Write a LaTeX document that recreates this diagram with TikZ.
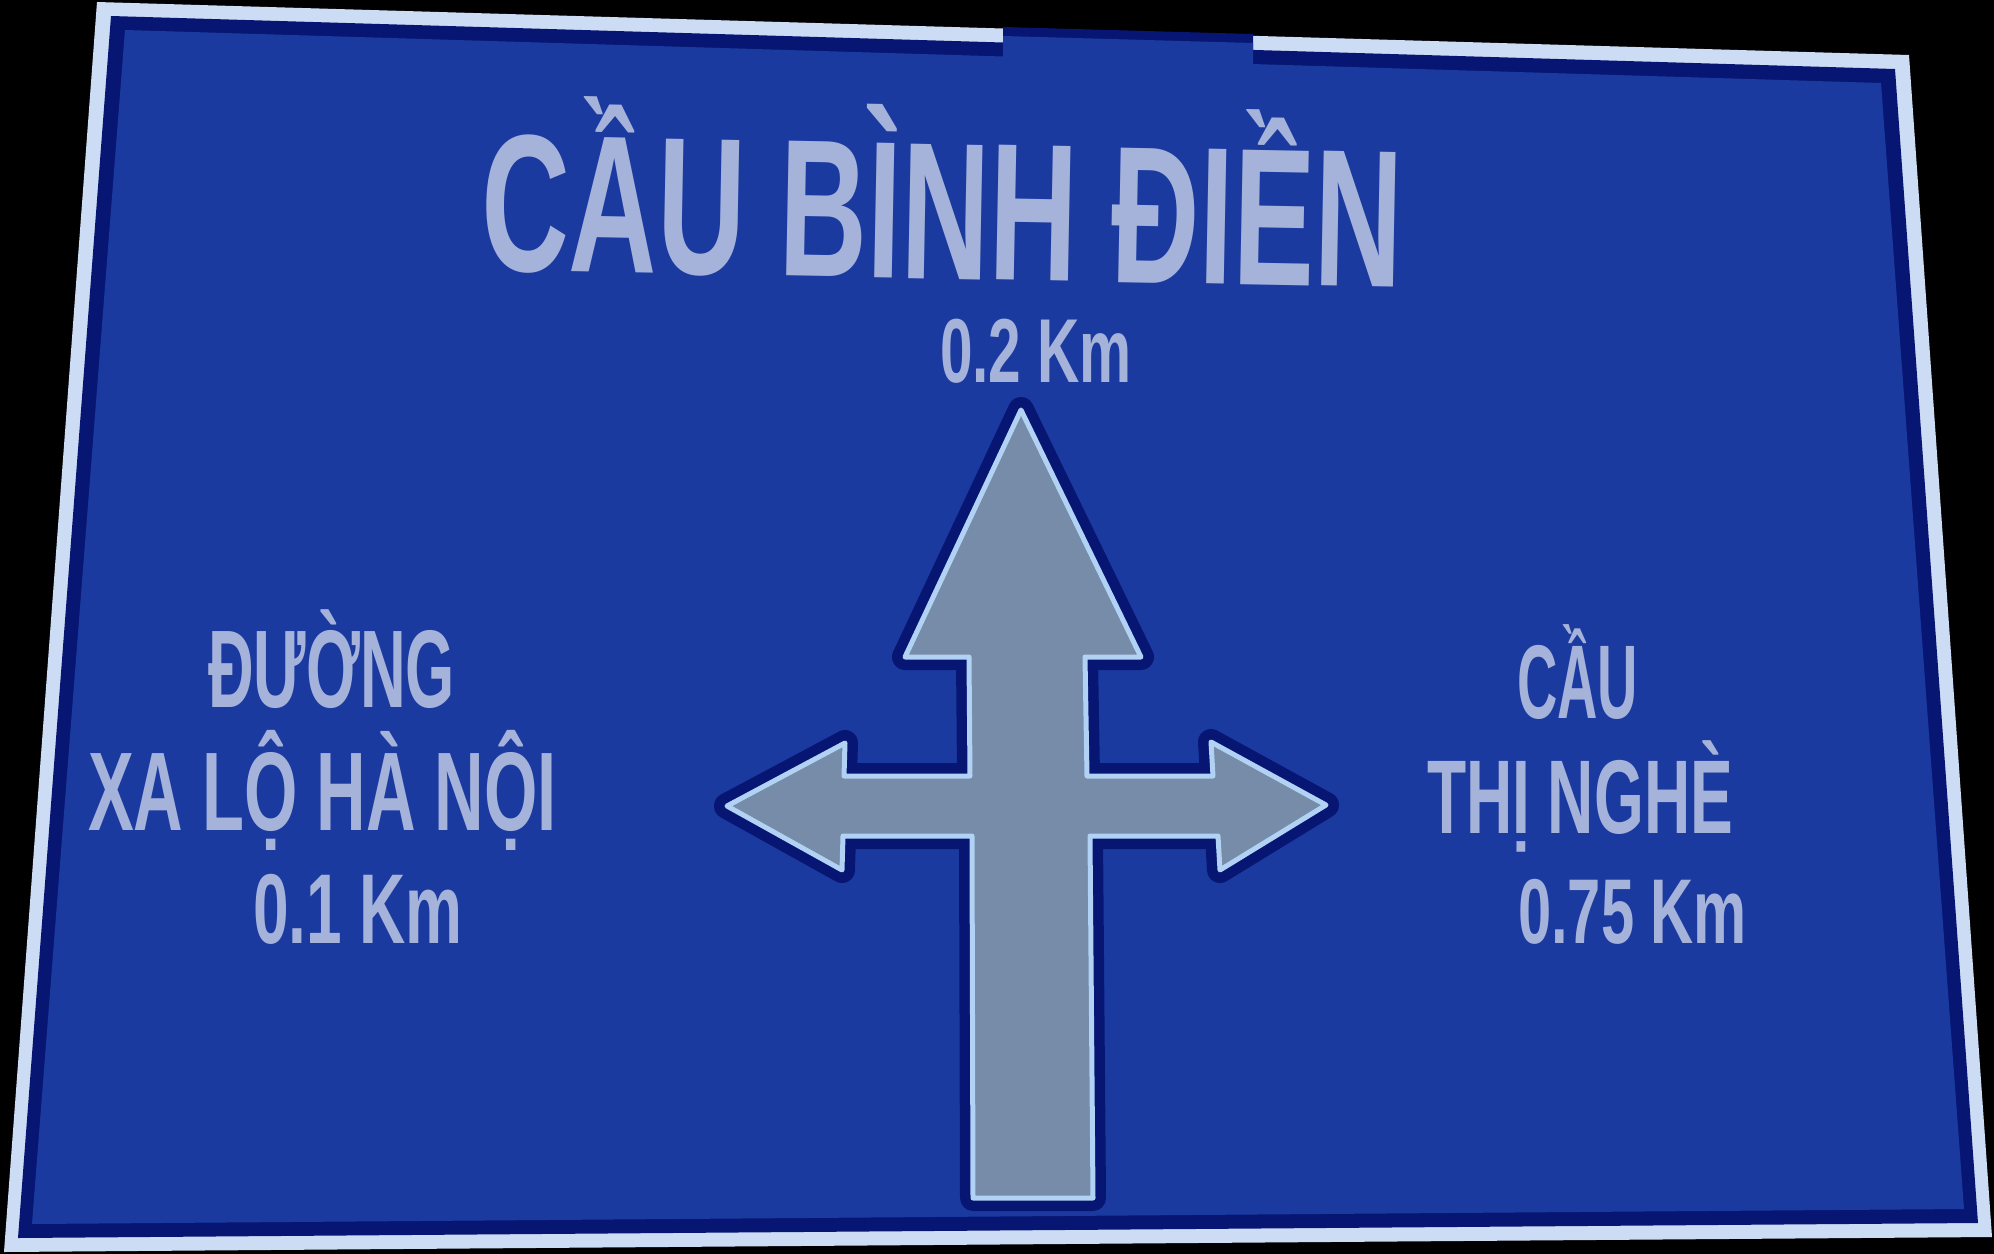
\documentclass[tikz,border=0pt]{standalone}
\usepackage{graphicx}
\usepackage{fontspec}
\setmainfont{Liberation Sans}
\definecolor{signblue}{RGB}{27,58,160}
\definecolor{signnavy}{RGB}{8,22,115}
\definecolor{signwhite}{RGB}{205,220,245}
\definecolor{signtext}{RGB}{165,178,218}
\definecolor{arrowgray}{RGB}{118,140,168}
\definecolor{arrowline}{RGB}{178,210,245}
\newcommand{\signtxt}[3]{\resizebox{#1}{\height}{\fontsize{#2}{#2}\selectfont\bfseries #3}}
\begin{document}
\begin{tikzpicture}[x=0.5pt,y=-0.5pt,
  txt/.style={inner sep=0pt, outer sep=0pt, anchor=base west, text=signtext}]
\useasboundingbox (0,0) rectangle (1994,1254);
\fill[black] (0,0) rectangle (1994,1254);
% sign plate
\fill[signwhite] (97,2) -- (1909,55) -- (1992,1237) -- (4,1252) -- cycle;
\fill[signnavy] (111,16) -- (1895,69) -- (1978,1223) -- (18,1238) -- cycle;
\fill[signblue] (125,30) -- (1881,83) -- (1964,1209) -- (32,1224) -- cycle;
% gap in the top white border
\fill[black] (1003,20) -- (1253,27) -- (1253,34) -- (1003,27) -- cycle;
\fill[signnavy] (1003,27) -- (1253,34) -- (1253,64) -- (1003,57) -- cycle;
\fill[signblue] (1003,36) -- (1253,43) -- (1253,66) -- (1003,59) -- cycle;
% arrow
\def\arrowpath{(1021,410) -- (1141,657) -- (1085,657) -- (1087,776) -- (1213,776) -- (1211,742) -- (1326,805) -- (1220,870) -- (1218,836) -- (1090,836) -- (1093,1198) -- (973,1198) -- (972,836) -- (843,836) -- (842,870) -- (727,806) -- (845,743) -- (844,776) -- (970,776) -- (969,657) -- (905,657) -- cycle}
\draw[signnavy, line width=13pt, line join=round] \arrowpath;
\draw[arrowline, fill=arrowgray, line width=2.5pt, line join=round] \arrowpath;
% texts
\node[txt, rotate=-1.1] (title) at (480,270) {\signtxt{461pt}{97.8pt}{CẦU BÌNH ĐIỀN}};
\node[txt] (dist02) at (940,382) {\signtxt{96pt}{45.4pt}{0.2 Km}};
\node[txt] (left1) at (208,707) {\signtxt{123.5pt}{55.2pt}{ĐƯỜNG}};
\node[txt] (left2) at (88,830) {\signtxt{234.5pt}{55.9pt}{XA LỘ HÀ NỘI}};
\node[txt] (left3) at (253,943) {\signtxt{105pt}{49.6pt}{0.1 Km}};
\node[txt] (right1) at (1517,718) {\signtxt{60.5pt}{52.4pt}{CẦU}};
\node[txt] (right2) at (1427,833) {\signtxt{153pt}{52.4pt}{THỊ NGHÈ}};
\node[txt] (right3) at (1518,943) {\signtxt{114.5pt}{46pt}{0.75 Km}};
\end{tikzpicture}
\end{document}
